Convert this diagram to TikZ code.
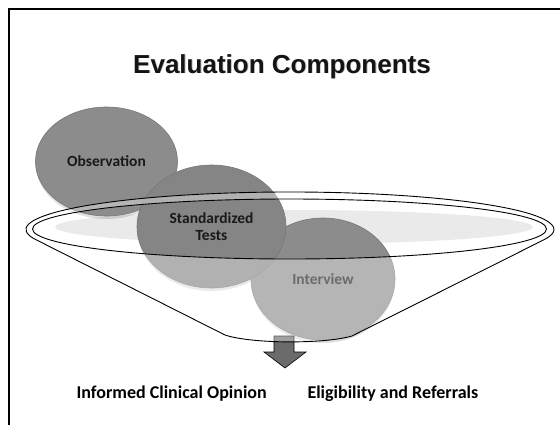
\documentclass[tikz,border=0pt]{standalone}
\usepackage{fontspec}
\setmainfont{Carlito}
\newfontfamily\headfont{Liberation Sans}
\usetikzlibrary{shapes.geometric}

\definecolor{ballgray}{HTML}{8C8C8C}
\definecolor{balledge}{HTML}{777777}
\definecolor{bowlgray}{HTML}{EAEAEA}
\definecolor{spoutgray}{HTML}{6B6B6B}

\begin{document}
\begin{tikzpicture}[x=1pt, y=-1pt,
    ball/.style={ellipse, fill=ballgray, draw=balledge, line width=0.6pt, inner sep=0pt,
      align=center, text=black!90, font=\fontsize{15.5}{17}\selectfont\bfseries},
    caption/.style={anchor=base west, font=\fontsize{18}{20}\selectfont\bfseries},
    heading/.style={anchor=base, font=\headfont\fontsize{26}{30}\selectfont\bfseries}]
  \useasboundingbox (0,0) rectangle (560,424);
  \clip (0,0) rectangle (560,424);
  \draw[line width=2pt] (9,9) rectangle (600,460);

  % heading, with a soft shadow behind it
  \node (headshadow) [heading, text=black!22] at (282.9,73.9) {Evaluation Components};
  \node (head) [heading, text=black!92] at (282,73) {Evaluation Components};

  % inside of the bowl
  \fill[bowlgray] (294,227) ellipse [x radius=239pt, y radius=17pt];

  % soft shadows under the balls
  \fill[black, opacity=0.12] (106.5,163.5) ellipse [x radius=71pt, y radius=55.5pt];
  \fill[black, opacity=0.12] (323,281) ellipse [x radius=72pt, y radius=62pt];
  \fill[black, opacity=0.12] (211.5,228.5) ellipse [x radius=74.5pt, y radius=62.5pt];

  % the three components (Standardized Tests sits on top)
  \node (obs) [ball, minimum width=142pt, minimum height=109pt] at (106.5,161.5) {Observation};
  \node (intv) [ball, minimum width=144pt, minimum height=122pt] at (323,279) {Interview};
  \node (std) [ball, fill=ballgray!95!black, minimum width=149pt, minimum height=123pt] at (211.5,226.5) {Standardized\\Tests};

  % outlet arrow
  \draw[fill=spoutgray, line width=0.6pt] (274,336) -- (294,336) -- (294,352) -- (306,352)
    -- (285,368) -- (264,352) -- (274,352) -- cycle;

  % funnel: rim arc, cone and spout, washed over the balls
  \coordinate (rimL) at (35,239.2);
  \coordinate (tipL) at (225,335);
  \coordinate (tipR) at (352,336);
  \fill[white, opacity=0.36, even odd rule]
    (tipL) -- (rimL) arc[start angle=195, end angle=-15, x radius=264pt, y radius=37.5pt]
    -- (tipR) .. controls (325,344) and (252,344) .. (tipL) -- cycle
    (289.5,229) ellipse [x radius=257pt, y radius=30pt];
  \draw[line width=0.9pt]
    (tipL) -- (rimL) arc[start angle=195, end angle=-15, x radius=264pt, y radius=37.5pt]
    -- (tipR) .. controls (325,344) and (252,344) .. (tipL) -- cycle;
  \draw[line width=0.9pt] (289.5,229) ellipse [x radius=257pt, y radius=30pt];

  % results below the funnel
  \node (opinion) [caption] at (73,398) {Informed Clinical Opinion};
  \node (refer) [caption] at (304,398) {Eligibility and Referrals};
\end{tikzpicture}
\end{document}
